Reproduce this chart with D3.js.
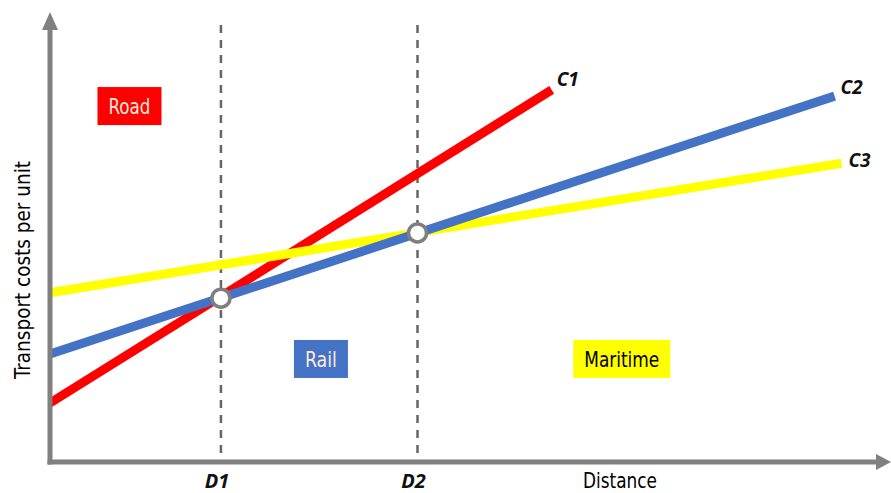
<!DOCTYPE html>
<html><head><meta charset="utf-8">
<script src="https://cdn.jsdelivr.net/npm/d3@7"></script>
<style>
html,body{margin:0;padding:0;background:#fff;}
svg{display:block;}
.cond{font-family:"DejaVu Sans Condensed","DejaVu Sans",sans-serif;font-stretch:condensed;}
.lab{font-family:"Open Sans",sans-serif;font-weight:bold;font-style:italic;}
</style></head>
<body>
<svg id="c" width="891" height="493"></svg>
<script>
// Data (conceptual units)
const curveNames = ["C1","C2","C3"];
const curveColors = ["#ff0000","#4472c4","#ffff00"];
const curveStartX = [0, 0, 0];
const curveStartY = [1.31, 2.40, 3.76];
const curveEndX = [5.87, 9.18, 9.26];
const curveEndY = [8.27, 8.13, 6.64];
const thresholdNames = ["D1","D2"];
const thresholdX = [2.0, 4.3];
const thresholdY = [3.64, 5.09];
const modeNames = ["Road","Rail","Maritime"];
const modeX = [0.93, 3.17, 6.69];
const modeY = [7.91, 2.29, 2.29];
const modeFill = ["#ff0000","#4472c4","#ffff00"];
const modeText = ["#fde9d9","#fde9d9","#000000"];
const xTitle = "Distance";
const yTitle = "Transport costs per unit";

const svg = d3.select("#c");
const x = d3.scaleLinear().domain([0, 9.84]).range([50, 891]);
const y = d3.scaleLinear().domain([0, 10]).range([462, 12]);
const axisCol = "#808080";

// threshold dashed lines
thresholdX.forEach((d,i)=>{
  svg.append("line").attr("x1",x(d)).attr("x2",x(d)).attr("y1",y(9.71)).attr("y2",y(0))
    .attr("stroke","#666").attr("stroke-width",2.5).attr("stroke-dasharray","8,7");
});

// curves
const line = d3.line().x(d=>x(d[0])).y(d=>y(d[1]));
const paths = curveNames.map((n,i)=>
  svg.append("path").attr("d", line([[curveStartX[i],curveStartY[i]],[curveEndX[i],curveEndY[i]]]))
    .attr("stroke",curveColors[i]).attr("stroke-width",9).attr("fill","none"));
paths[1].raise();

// curve labels
const lblOff = [[5,-4],[6,-2],[7,4]];
curveNames.forEach((n,i)=>{
  svg.append("text").attr("class","lab").attr("x",x(curveEndX[i])+lblOff[i][0]).attr("y",y(curveEndY[i])+lblOff[i][1])
    .attr("font-size",19).attr("fill","#111").text(n);
});

// axes
svg.append("line").attr("x1",x(0)).attr("x2",x(0)).attr("y1",y(0)+2.5).attr("y2",y(9.6))
  .attr("stroke",axisCol).attr("stroke-width",5);
svg.append("line").attr("x1",x(0)-2.5).attr("x2",x(9.7)).attr("y1",y(0)).attr("y2",y(0))
  .attr("stroke",axisCol).attr("stroke-width",5);
svg.append("path").attr("d",`M${x(0)},${y(10)} L${x(0)+8},${y(9.6)} L${x(0)-8},${y(9.6)} Z`).attr("fill",axisCol);
svg.append("path").attr("d",`M${x(9.84)},${y(0)} L${x(9.84)-15},${y(0)-8} L${x(9.84)-15},${y(0)+8} Z`).attr("fill",axisCol);

// intersection circles
thresholdX.forEach((d,i)=>{
  svg.append("circle").attr("cx",x(d)).attr("cy",y(thresholdY[i])).attr("r",9)
    .attr("fill","#fff").attr("stroke","#7f7f7f").attr("stroke-width",3.5);
});

// threshold labels
thresholdNames.forEach((n,i)=>{
  svg.append("text").attr("class","lab").attr("x",x(thresholdX[i])-4).attr("y",488)
    .attr("text-anchor","middle").attr("font-size",20).attr("fill","#111").text(n);
});

// mode boxes
const modeTextLen = [42, 32, 75];
modeNames.forEach((n,i)=>{
  const g = svg.append("g");
  const w = modeTextLen[i] + 22;
  g.append("rect").attr("x",x(modeX[i])-w/2).attr("y",y(modeY[i])-19).attr("width",w).attr("height",38)
    .attr("fill",modeFill[i]);
  g.append("text").attr("class","cond").attr("x",x(modeX[i])).attr("y",y(modeY[i])+8)
    .attr("text-anchor","middle").attr("font-size",22).attr("fill",modeText[i])
    .attr("textLength",modeTextLen[i]).attr("lengthAdjust","spacingAndGlyphs").text(n);
});

// axis titles
svg.append("text").attr("class","cond").attr("x",620).attr("y",488).attr("text-anchor","middle")
  .attr("font-size",22).attr("fill","#000").attr("textLength",74).attr("lengthAdjust","spacingAndGlyphs").text(xTitle);
svg.append("text").attr("class","cond").attr("transform","translate(30,270) rotate(-90)").attr("text-anchor","middle")
  .attr("font-size",22).attr("fill","#000").attr("textLength",218).attr("lengthAdjust","spacingAndGlyphs").text(yTitle);
</script>
</body></html>
